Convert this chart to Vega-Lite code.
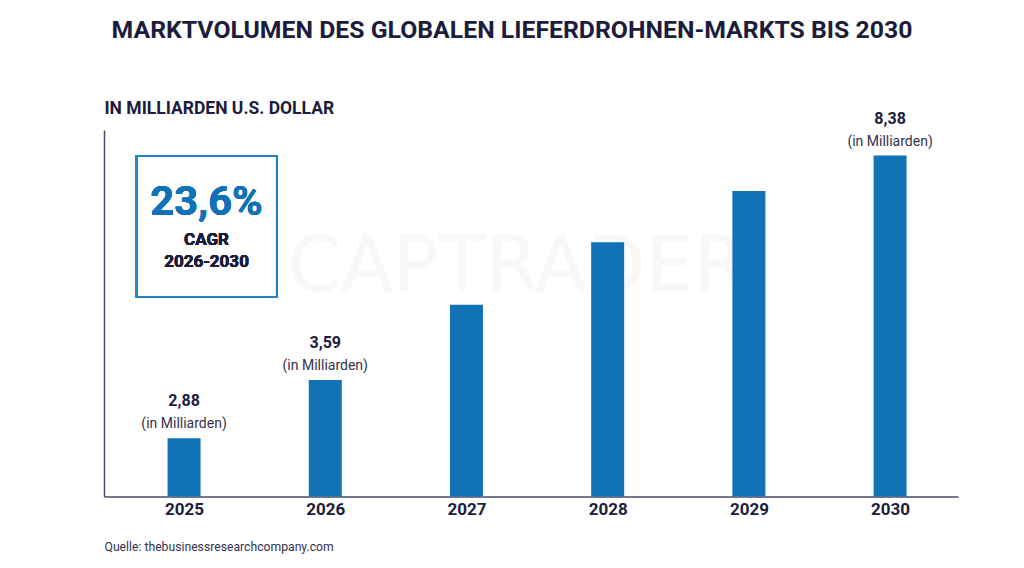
{
  "$schema": "https://vega.github.io/schema/vega-lite/v6.json",
  "description": "Marktvolumen des globalen Lieferdrohnen-Markts bis 2030",
  "autosize": "none",
  "width": 854,
  "height": 366.5,
  "padding": {"left": 104, "top": 130, "right": 66, "bottom": 71.5},
  "background": "white",
  "title": {
    "text": "MARKTVOLUMEN DES GLOBALEN LIEFERDROHNEN-MARKTS BIS 2030",
    "font": "Roboto",
    "fontSize": 24.8,
    "fontWeight": 700,
    "color": "#1c1c3c",
    "anchor": "middle",
    "dx": -19,
    "offset": 56
  },
  "data": {
    "values": [
      {"jahr": 2025, "balken": 1.43, "wert": "2,88"},
      {"jahr": 2026, "balken": 2.86, "wert": "3,59"},
      {"jahr": 2027, "balken": 4.71},
      {"jahr": 2028, "balken": 6.25},
      {"jahr": 2029, "balken": 7.51},
      {"jahr": 2030, "balken": 8.38, "wert": "8,38"}
    ]
  },
  "encoding": {
    "x": {
      "field": "jahr",
      "type": "quantitative",
      "scale": {"domain": [2024.433, 2030.481], "nice": false, "zero": false, "padding": 0},
      "axis": {
        "values": [2025, 2026, 2027, 2028, 2029, 2030],
        "format": "d",
        "grid": false,
        "ticks": false,
        "labelFlush": false,
        "labelFont": "Roboto",
        "labelFontSize": 17,
        "labelFontWeight": 700,
        "labelColor": "#1c1c3c",
        "labelPadding": 5,
        "domainColor": "#4a4a66",
        "domainWidth": 1.5,
        "title": "Quelle: thebusinessresearchcompany.com",
        "titleFont": "Roboto",
        "titleFontSize": 12.2,
        "titleFontWeight": 400,
        "titleColor": "#33334d",
        "titleAlign": "left",
        "titleBaseline": "middle",
        "titleX": 0,
        "titleY": 50
      }
    },
    "y": {
      "field": "balken",
      "type": "quantitative",
      "scale": {"domain": [0, 9.007], "nice": false},
      "axis": {
        "grid": false,
        "ticks": false,
        "labels": false,
        "domainColor": "#4a4a66",
        "domainWidth": 1.5,
        "title": "IN MILLIARDEN U.S. DOLLAR",
        "titleFont": "Roboto",
        "titleFontSize": 17.5,
        "titleFontWeight": 700,
        "titleColor": "#1c1c3c",
        "titleAngle": 0,
        "titleAlign": "left",
        "titleBaseline": "middle",
        "titleX": 0,
        "titleY": -22
      }
    }
  },
  "layer": [
    {
      "mark": {"type": "text", "font": "DejaVu Sans", "fontSize": 76, "fontWeight": 400, "color": "#f8f8f8", "text": "CAPTRADER"},
      "encoding": {"x": {"datum": 2027.358}, "y": {"datum": 5.616}}
    },
    {"mark": {"type": "bar", "size": 33, "color": "#1172b6"}},
    {
      "transform": [{"filter": "datum.wert"}],
      "mark": {"type": "text", "dy": -37, "font": "Roboto", "fontSize": 16, "fontWeight": 700, "color": "#1c1c3c"},
      "encoding": {"text": {"field": "wert"}}
    },
    {
      "transform": [{"filter": "datum.wert"}],
      "mark": {"type": "text", "dy": -14, "font": "Roboto", "fontSize": 14, "color": "#33334d", "text": "(in Milliarden)"}
    },
    {
      "mark": {"type": "rect", "fill": "white", "fillOpacity": 0, "stroke": "#2384c6", "strokeWidth": 2},
      "encoding": {
        "x": {"datum": 2024.663},
        "x2": {"datum": 2025.658},
        "y": {"datum": 8.368},
        "y2": {"datum": 4.903}
      }
    },
    {
      "mark": {"type": "text", "font": "Roboto", "fontSize": 41.5, "fontWeight": 700, "color": "#1172b6", "text": "23,6%"},
      "encoding": {"x": {"datum": 2025.159}, "y": {"datum": 7.213}}
    },
    {
      "mark": {"type": "text", "dy": 1, "font": "Roboto", "fontSize": 17, "fontWeight": 700, "color": "#1c1c3c", "text": "CAGR"},
      "encoding": {"x": {"datum": 2025.159}, "y": {"datum": 6.328}}
    },
    {
      "mark": {"type": "text", "dy": 1, "font": "Roboto", "fontSize": 17, "fontWeight": 700, "color": "#1c1c3c", "text": "2026-2030"},
      "encoding": {"x": {"datum": 2025.159}, "y": {"datum": 5.788}}
    }
  ],
  "config": {"view": {"stroke": null}}
}
